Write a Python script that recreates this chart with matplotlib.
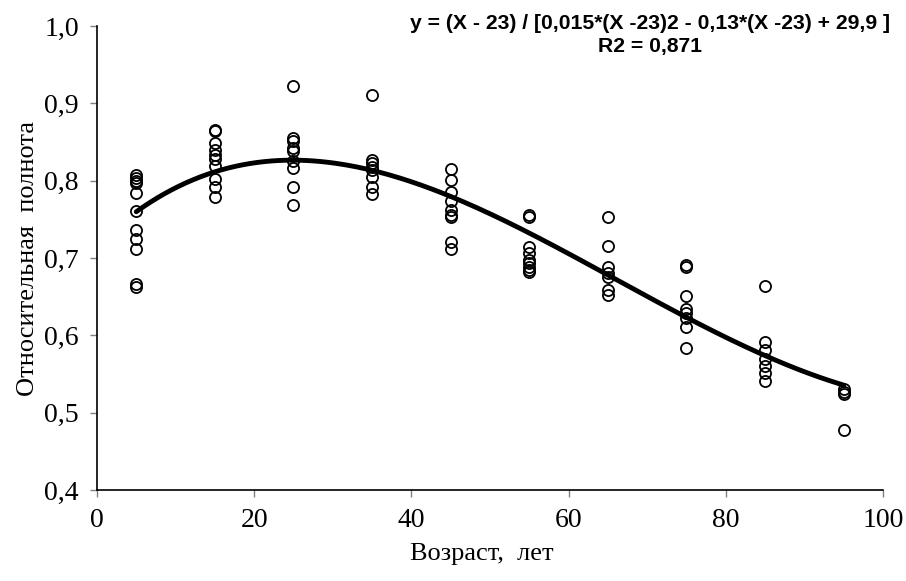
import numpy as np
import matplotlib
matplotlib.use("Agg")
import matplotlib.pyplot as plt
from matplotlib.ticker import FuncFormatter

# относительная полнота по классам возраста
ages = [5, 15, 25, 35, 45, 55, 65, 75, 85, 95]
rp5 = [0.807, 0.804, 0.800, 0.797, 0.784, 0.761, 0.736, 0.724, 0.712, 0.666, 0.663]
rp15 = [0.866, 0.864, 0.849, 0.840, 0.833, 0.828, 0.819, 0.802, 0.792, 0.779]
rp25 = [0.922, 0.855, 0.851, 0.842, 0.838, 0.825, 0.816, 0.792, 0.769]
rp35 = [0.911, 0.827, 0.823, 0.818, 0.814, 0.805, 0.792, 0.783]
rp45 = [0.815, 0.801, 0.785, 0.774, 0.762, 0.756, 0.753, 0.721, 0.712]
rp55 = [0.755, 0.753, 0.714, 0.706, 0.698, 0.693, 0.689, 0.685, 0.682]
rp65 = [0.753, 0.716, 0.688, 0.680, 0.675, 0.659, 0.652]
rp75 = [0.691, 0.688, 0.651, 0.634, 0.629, 0.623, 0.611, 0.584]
rp85 = [0.664, 0.592, 0.581, 0.570, 0.560, 0.551, 0.541]
rp95 = [0.530, 0.527, 0.524, 0.477]

# линия тренда
trend_age = [5, 10, 15, 20, 25, 30, 35, 40, 45, 50, 55, 60, 65, 70, 75, 80, 85, 90, 95]
trend_rp = [0.760, 0.790, 0.813, 0.822, 0.826, 0.823, 0.814, 0.799, 0.780, 0.757,
            0.732, 0.705, 0.677, 0.651, 0.625, 0.598, 0.572, 0.553, 0.536]

formula = "y = (X - 23) / [0,015*(X -23)2 - 0,13*(X -23) + 29,9 ]\nR2 = 0,871"

groups = [rp5, rp15, rp25, rp35, rp45, rp55, rp65, rp75, rp85, rp95]

fig = plt.figure(figsize=(9.06, 5.81), dpi=100)
ax = fig.add_axes([0.107, 0.1566, 0.8676, 0.7986])

for a, vals in zip(ages, groups):
    ax.plot([a] * len(vals), vals, 'o', mfc='none', mec='black', ms=8, mew=1.3, zorder=3)

coef = np.polyfit(trend_age, trend_rp, 5)
xs = np.linspace(trend_age[0], trend_age[-1], 200)
ax.plot(xs, np.polyval(coef, xs), color='black', lw=3.5, solid_capstyle='round', zorder=4)

ax.set_xlim(0, 100)
ax.set_ylim(0.4, 1.0)
ax.set_xticks(range(0, 101, 20))
ax.set_yticks(np.arange(0.4, 1.01, 0.1))
ax.yaxis.set_major_formatter(FuncFormatter(lambda v, p: ("%.1f" % v).replace('.', ',')))

serif = 'Liberation Serif'
for lab in ax.get_xticklabels() + ax.get_yticklabels():
    lab.set_fontfamily(serif)
    lab.set_fontsize(20)
ax.tick_params(direction='out', length=5, width=1, color='#808080', pad=8)

for s in ['top', 'right']:
    ax.spines[s].set_visible(False)
for s in ['left', 'bottom']:
    ax.spines[s].set_linewidth(1.2)

ax.set_xlabel("Возраст,  лет", family=serif, fontsize=19, labelpad=7)
ax.set_ylabel("Относительная  полнота", family=serif, fontsize=19, labelpad=4)
ax.xaxis.set_label_coords(0.49, -0.115)

fig.text(0.717, 0.94, formula, ha='center', va='center', family='Liberation Sans',
         fontweight='bold', fontsize=15.2, linespacing=1.3)

fig.savefig("out.png", dpi=100)
